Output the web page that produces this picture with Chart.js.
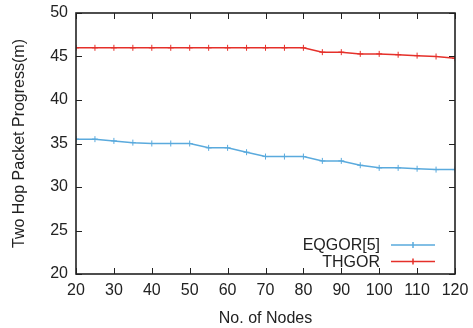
<!DOCTYPE html>
<html>
<head>
<meta charset="utf-8">
<script src="https://cdn.jsdelivr.net/npm/chart.js@4"></script>
<style>
    html, body { margin: 0; padding: 0; background: #fff; }
    #wrap { width: 473px; height: 328px; }
</style>
</head>
<body>
<div id="wrap"><canvas id="chart" width="473" height="328"></canvas></div>
<script>
// Number of nodes (x values)
const nodes = [20, 25, 30, 35, 40, 45, 50, 55, 60, 65, 70, 75, 80, 85, 90, 95, 100, 105, 110, 115, 120];
// Two hop packet progress (m)
const eqgor = [35.5, 35.5, 35.3, 35.1, 35.0, 35.0, 35.0, 34.5, 34.5, 34.0, 33.5, 33.5, 33.5, 33.0, 33.0, 32.5, 32.2, 32.2, 32.1, 32.0, 32.0];
const thgor = [46.0, 46.0, 46.0, 46.0, 46.0, 46.0, 46.0, 46.0, 46.0, 46.0, 46.0, 46.0, 46.0, 45.5, 45.5, 45.3, 45.3, 45.2, 45.1, 45.0, 44.8];
const xTicks = [20, 30, 40, 50, 60, 70, 80, 90, 100, 110, 120];
const yTicks = [20, 25, 30, 35, 40, 45, 50];

const FONT = 'Liberation Sans, Arial, sans-serif';

function toPoints(ys) {
    return nodes.map((x, i) => ({ x: x, y: ys[i] }));
}

// frame, inward ticks and the legend inside the plot (gnuplot look)
const framePlugin = {
    id: 'frame',
    afterDraw(chart) {
        const ctx = chart.ctx;
        const a = chart.chartArea;
        const xs = chart.scales.x, ys = chart.scales.y;
        const t = 6;
        ctx.save();
        ctx.strokeStyle = '#222';
        ctx.lineWidth = 1;
        xTicks.forEach(v => {
            const px = Math.round(xs.getPixelForValue(v)) + 0.5;
            ctx.beginPath();
            ctx.moveTo(px, a.bottom); ctx.lineTo(px, a.bottom - t);
            ctx.moveTo(px, a.top); ctx.lineTo(px, a.top + t);
            ctx.stroke();
        });
        yTicks.forEach(v => {
            const py = Math.round(ys.getPixelForValue(v)) + 0.5;
            ctx.beginPath();
            ctx.moveTo(a.left, py); ctx.lineTo(a.left + t, py);
            ctx.moveTo(a.right, py); ctx.lineTo(a.right - t, py);
            ctx.stroke();
        });
        ctx.lineWidth = 1.6;
        ctx.strokeRect(a.left, a.top, a.right - a.left, a.bottom - a.top);

        // legend
        ctx.font = '16px ' + FONT;
        ctx.textAlign = 'right';
        ctx.textBaseline = 'middle';
        chart.data.datasets.forEach((ds, i) => {
            const y = a.bottom - 29 + i * 16.5;
            const x0 = a.right - 64;
            ctx.fillStyle = '#222';
            ctx.fillText(ds.label, x0 - 11, y + 1);
            ctx.strokeStyle = ds.borderColor;
            ctx.lineWidth = 1.5;
            ctx.beginPath();
            ctx.moveTo(x0, y); ctx.lineTo(x0 + 44, y);
            ctx.moveTo(x0 + 22, y - 3); ctx.lineTo(x0 + 22, y + 3);
            ctx.stroke();
        });
        ctx.restore();
    }
};

const ctx = document.getElementById('chart').getContext('2d');
new Chart(ctx, {
    type: 'line',
    data: {
        datasets: [
            {
                label: 'EQGOR[5]',
                data: toPoints(eqgor),
                borderColor: '#5aaadd',
                backgroundColor: '#5aaadd',
                borderWidth: 1.5,
                pointStyle: 'cross',
                pointRadius: 3,
                pointBorderWidth: 1,
                tension: 0
            },
            {
                label: 'THGOR',
                data: toPoints(thgor),
                borderColor: '#e5302a',
                backgroundColor: '#e5302a',
                borderWidth: 1.5,
                pointStyle: 'cross',
                pointRadius: 3,
                pointBorderWidth: 1,
                tension: 0
            }
        ]
    },
    options: {
        responsive: false,
        animation: false,
        layout: { padding: { top: 13, right: 18, left: 0, bottom: 0 } },
        plugins: {
            legend: { display: false },
            tooltip: { enabled: false }
        },
        scales: {
            x: {
                type: 'linear',
                min: 20,
                max: 120,
                afterBuildTicks(scale) { scale.ticks = xTicks.map(v => ({ value: v })); },
                afterFit(scale) {
                    scale.height = 54;
                    scale.paddingLeft = 0;
                    scale.paddingRight = 0;
                },
                grid: { display: false, drawTicks: false },
                border: { display: false },
                ticks: { color: '#222', padding: 7, maxRotation: 0, font: { family: FONT, size: 16 } },
                title: { display: true, text: 'No. of Nodes', color: '#222', padding: { top: 0, bottom: 0 }, font: { family: FONT, size: 16 } }
            },
            y: {
                min: 20,
                max: 50,
                afterBuildTicks(scale) { scale.ticks = yTicks.map(v => ({ value: v })); },
                afterFit(scale) {
                    scale.width = 76;
                    scale.paddingTop = 0;
                    scale.paddingBottom = 0;
                },
                grid: { display: false, drawTicks: false },
                border: { display: false },
                ticks: { color: '#222', padding: 8, font: { family: FONT, size: 16 } },
                title: { display: true, text: 'Two Hop Packet Progress(m)', color: '#222', padding: { top: 10, bottom: 0 }, font: { family: FONT, size: 16 } }
            }
        }
    },
    plugins: [framePlugin]
});
</script>
</body>
</html>
